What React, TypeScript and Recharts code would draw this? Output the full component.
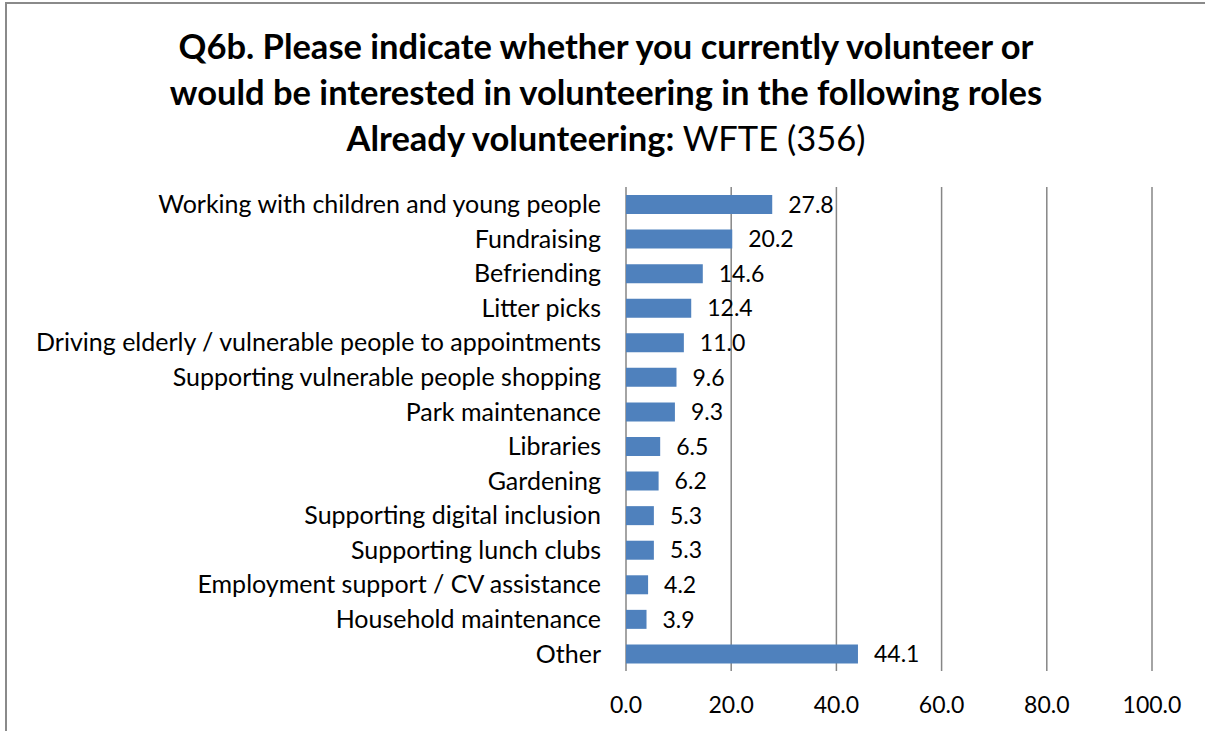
import { Bar, BarChart, CartesianGrid, LabelList, XAxis, YAxis } from "recharts";

// ---------------------------------------------------------------------------
// Data
// ---------------------------------------------------------------------------

const roles = [
  "Working with children and young people",
  "Fundraising",
  "Befriending",
  "Litter picks",
  "Driving elderly / vulnerable people to appointments",
  "Supporting vulnerable people shopping",
  "Park maintenance",
  "Libraries",
  "Gardening",
  "Supporting digital inclusion",
  "Supporting lunch clubs",
  "Employment support / CV assistance",
  "Household maintenance",
  "Other",
];

const alreadyVolunteering = [27.8, 20.2, 14.6, 12.4, 11.0, 9.6, 9.3, 6.5, 6.2, 5.3, 5.3, 4.2, 3.9, 44.1];

const xTicks = [0, 20, 40, 60, 80, 100];

const titleLines = [
  "Q6b. Please indicate whether you currently volunteer or",
  "would be interested in volunteering in the following roles",
];

const chartData = roles.map((role, i) => ({ role, value: alreadyVolunteering[i] }));

const FONT = "Lato, 'Open Sans', sans-serif";
const BAR_COLOR = "#4F81BD";
const GRID_COLOR = "#868686";

export default function App() {
  return (
    <div
      style={{
        position: "absolute",
        left: 0,
        top: 0,
        width: 1205,
        height: 731,
        background: "#fff",
        overflow: "hidden",
        fontFamily: FONT,
      }}
    >
      {/* chart frame (only left and top edges fall inside the picture) */}
      <div
        style={{
          position: "absolute",
          left: 5,
          top: 2,
          width: 1220,
          height: 760,
          borderLeft: "2px solid #8a8a8a",
          borderTop: "2px solid #8a8a8a",
        }}
      />

      {/* title */}
      <div
        style={{
          position: "absolute",
          left: 6,
          width: 1200,
          top: 23,
          textAlign: "center",
          fontSize: 34.5,
          lineHeight: "46px",
          color: "#000",
          whiteSpace: "nowrap",
        }}
      >
        {titleLines.map((t) => (
          <div key={t} style={{ fontWeight: 700 }}>
            {t}
          </div>
        ))}
        <div>
          <span style={{ fontWeight: 700 }}>Already volunteering:</span> WFTE (356)
        </div>
      </div>

      <BarChart
        width={1205}
        height={731}
        data={chartData}
        layout="vertical"
        barSize={19}
        margin={{ top: 187, right: 53, bottom: 10, left: 6 }}
        style={{ position: "absolute", left: 0, top: 0 }}
      >
        <CartesianGrid horizontal={false} vertical stroke={GRID_COLOR} strokeWidth={1.5} />
        <XAxis
          type="number"
          domain={[0, 100]}
          ticks={xTicks}
          tickFormatter={(v: number) => v.toFixed(1)}
          axisLine={false}
          tickLine={false}
          tickSize={0}
          tickMargin={26}
          height={50}
          tick={{ fill: "#000", fontSize: 23, fontFamily: FONT }}
        />
        <YAxis
          type="category"
          dataKey="role"
          width={620}
          axisLine={false}
          tickLine={false}
          tickSize={0}
          tickMargin={25}
          interval={0}
          tick={{ fill: "#000", fontSize: 25, fontFamily: FONT }}
        />
        <Bar dataKey="value" fill={BAR_COLOR} isAnimationActive={false}>
          <LabelList
            dataKey="value"
            position="right"
            offset={16}
            formatter={(v: number) => v.toFixed(1)}
            style={{ fill: "#000", fontSize: 23, fontFamily: FONT }}
          />
        </Bar>
      </BarChart>
    </div>
  );
}
